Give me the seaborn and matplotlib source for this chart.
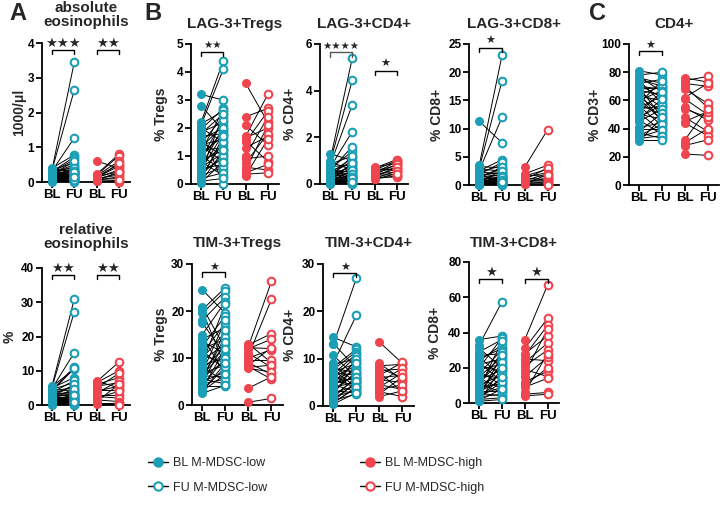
import numpy as np
import pandas as pd
import matplotlib
matplotlib.use('Agg')
import matplotlib.pyplot as plt
import seaborn as sns
from matplotlib.lines import Line2D

sns.set_theme(style='ticks')
plt.rcParams['font.family'] = ['Liberation Sans', 'DejaVu Sans']

TEAL = '#1a9fb6'
RED = '#f0454e'

# ---------------- data ----------------
tick_labels = ['BL', 'FU', 'BL', 'FU']

eos_abs_low_bl = [0.40, 0.38, 0.36, 0.35, 0.34, 0.33, 0.32, 0.30, 0.30, 0.28, 0.27, 0.26, 0.25, 0.24, 0.23, 0.22, 0.21, 0.20, 0.20, 0.19, 0.18, 0.17, 0.16, 0.15, 0.15, 0.14, 0.13, 0.12, 0.11, 0.10, 0.10, 0.09, 0.08, 0.07, 0.06, 0.05, 0.04, 0.03, 0.02, 0.01]
eos_abs_low_fu = [0.78, 0.30, 3.45, 0.55, 2.65, 0.40, 1.27, 0.72, 0.35, 0.65, 0.25, 0.50, 0.30, 0.45, 0.20, 0.60, 0.28, 0.18, 0.35, 0.22, 0.40, 0.15, 0.30, 0.12, 0.25, 0.20, 0.10, 0.33, 0.18, 0.08, 0.15, 0.05, 0.22, 0.12, 0.02, 0.10, 0.28, 0.00, 0.06, 0.15]
eos_abs_high_bl = [0.60, 0.22, 0.20, 0.18, 0.16, 0.15, 0.14, 0.12, 0.10, 0.09, 0.08, 0.07, 0.05, 0.04, 0.03, 0.02]
eos_abs_high_fu = [0.40, 0.80, 0.75, 0.60, 0.50, 0.30, 0.45, 0.35, 0.20, 0.55, 0.25, 0.10, 0.15, 0.00, 0.30, 0.05]

eos_rel_low_bl = [5.6, 5.4, 5.2, 5.0, 4.8, 4.6, 4.4, 4.2, 4.0, 3.8, 3.6, 3.4, 3.2, 3.0, 2.8, 2.6, 2.5, 2.4, 2.2, 2.0, 1.9, 1.8, 1.6, 1.5, 1.4, 1.3, 1.2, 1.1, 1.0, 0.9, 0.8, 0.7, 0.6, 0.5, 0.5, 0.4, 0.3, 0.3, 0.2, 0.1]
eos_rel_low_fu = [31.0, 10.5, 27.2, 8.0, 15.3, 6.5, 11.0, 5.0, 10.7, 4.5, 7.2, 3.5, 5.5, 2.8, 4.0, 3.0, 6.0, 2.0, 3.5, 2.5, 1.5, 4.8, 2.2, 1.8, 3.0, 1.0, 2.5, 1.5, 0.8, 2.0, 1.2, 0.5, 1.8, 0.9, 0.0, 1.4, 0.6, 2.8, 0.3, 1.0]
eos_rel_high_bl = [7.0, 6.8, 6.5, 6.0, 5.5, 5.0, 4.5, 4.0, 3.5, 3.0, 2.5, 2.0, 1.5, 1.0, 0.5, 0.2]
eos_rel_high_fu = [5.0, 12.5, 10.0, 8.0, 6.5, 9.2, 4.5, 5.5, 7.0, 3.0, 2.0, 4.0, 1.0, 6.0, 0.5, 0.0]

lag_treg_low_bl = [3.2, 2.8, 2.2, 2.15, 2.1, 2.0, 1.95, 1.9, 1.85, 1.8, 1.7, 1.6, 1.5, 1.45, 1.4, 1.35, 1.3, 1.2, 1.15, 1.1, 1.0, 0.95, 0.9, 0.85, 0.8, 0.7, 0.65, 0.6, 0.55, 0.5, 0.45, 0.4, 0.35, 0.3, 0.25, 0.2, 0.15, 0.1, 0.07, 0.05]
lag_treg_low_fu = [3.0, 1.9, 4.4, 2.6, 4.1, 1.5, 2.7, 0.0, 2.2, 2.5, 1.8, 2.0, 1.0, 2.4, 1.6, 0.8, 2.1, 1.3, 2.65, 1.7, 0.5, 1.9, 2.3, 1.2, 0.3, 1.4, 2.0, 1.1, 0.7, 1.8, 0.9, 2.5, 1.0, 0.6, 1.5, 0.4, 1.7, 0.2, 1.2, 0.8]
lag_treg_high_bl = [3.6, 2.4, 2.1, 1.7, 1.65, 1.55, 1.5, 1.3, 1.0, 0.9, 0.75, 0.6, 0.5, 0.4, 0.35, 0.3]
lag_treg_high_fu = [2.2, 2.7, 1.4, 3.2, 2.0, 0.8, 2.6, 1.7, 2.4, 1.0, 1.8, 0.5, 2.1, 0.7, 0.4, 1.6]

lag_cd4_low_bl = [1.3, 1.0, 0.95, 0.9, 0.85, 0.8, 0.75, 0.7, 0.65, 0.6, 0.58, 0.55, 0.5, 0.48, 0.45, 0.42, 0.4, 0.38, 0.35, 0.33, 0.3, 0.28, 0.25, 0.23, 0.2, 0.18, 0.16, 0.15, 0.13, 0.12, 0.1, 0.09, 0.08, 0.07, 0.06, 0.05, 0.04, 0.03, 0.02, 0.01]
lag_cd4_low_fu = [1.0, 5.4, 0.6, 4.45, 1.2, 3.4, 0.8, 2.25, 1.4, 0.5, 1.6, 0.9, 0.4, 1.1, 0.7, 0.3, 1.0, 0.6, 0.2, 0.8, 0.5, 1.2, 0.3, 0.7, 0.15, 0.4, 0.9, 0.25, 0.55, 0.1, 0.35, 0.6, 0.2, 0.45, 0.05, 0.3, 0.15, 0.0, 0.25, 0.1]
lag_cd4_high_bl = [0.72, 0.68, 0.65, 0.6, 0.55, 0.5, 0.48, 0.45, 0.4, 0.38, 0.35, 0.3, 0.28, 0.25, 0.22, 0.2]
lag_cd4_high_fu = [0.9, 1.05, 0.6, 1.0, 0.8, 0.7, 0.95, 0.5, 0.85, 0.4, 0.65, 0.75, 0.3, 0.55, 0.35, 0.45]

lag_cd8_low_bl = [11.3, 3.5, 3.3, 3.0, 2.8, 2.6, 2.5, 2.3, 2.2, 2.0, 1.9, 1.8, 1.6, 1.5, 1.4, 1.3, 1.2, 1.1, 1.0, 0.9, 0.85, 0.8, 0.7, 0.65, 0.6, 0.55, 0.5, 0.45, 0.4, 0.35, 0.3, 0.28, 0.25, 0.2, 0.18, 0.15, 0.12, 0.1, 0.08, 0.05]
lag_cd8_low_fu = [7.5, 23.0, 3.0, 18.5, 2.5, 12.0, 4.5, 2.0, 3.5, 1.5, 4.0, 2.2, 1.0, 2.8, 1.8, 0.8, 3.2, 1.2, 0.5, 2.0, 1.5, 0.3, 1.0, 2.5, 0.6, 1.3, 0.2, 0.9, 1.6, 0.4, 0.0, 1.1, 0.7, 0.3, 1.4, 0.5, 0.1, 0.8, 0.2, 0.6]
lag_cd8_high_bl = [3.2, 2.0, 1.8, 1.6, 1.4, 1.2, 1.0, 0.9, 0.8, 0.6, 0.5, 0.4, 0.3, 0.2, 0.15, 0.1]
lag_cd8_high_fu = [9.8, 3.5, 1.5, 2.8, 2.2, 1.0, 3.0, 0.8, 2.0, 0.5, 1.2, 0.3, 1.8, 0.6, 0.2, 0.0]

cd4_low_bl = [81, 78, 77, 76, 75, 74, 72, 71, 70, 69, 68, 67, 66, 65, 64, 63, 62, 61, 60, 58, 57, 56, 55, 54, 52, 51, 50, 48, 47, 46, 45, 41, 40, 38, 37, 35, 34, 33, 32, 31]
cd4_low_fu = [78, 80, 66, 72, 70, 58, 75, 62, 68, 48, 69, 64, 55, 45, 70, 60, 52, 46, 67, 74, 50, 42, 63, 56, 66, 38, 47, 57, 61, 36, 54, 44, 40, 51, 33, 43, 39, 35, 32, 48]
cd4_high_bl = [76, 74, 72, 70, 68, 62, 61, 55, 54, 48, 45, 44, 32, 30, 28, 22]
cd4_high_fu = [73, 77, 70, 55, 58, 72, 50, 46, 48, 38, 52, 35, 54, 40, 32, 21]

tim_treg_low_bl = [24.5, 20.8, 20.3, 20.0, 19.5, 18.0, 17.5, 15.0, 14.5, 14.0, 13.5, 12.5, 12.0, 11.5, 11.0, 10.5, 10.0, 9.5, 9.0, 8.5, 8.0, 7.5, 7.0, 6.8, 6.5, 6.2, 6.0, 5.8, 5.5, 5.2, 5.0, 4.8, 4.5, 4.2, 4.0, 3.5, 3.2, 3.0, 2.8, 2.5]
tim_treg_low_fu = [19.5, 12.0, 25.0, 8.0, 24.3, 23.0, 10.5, 22.0, 6.5, 16.5, 11.0, 19.0, 14.0, 7.5, 17.5, 9.0, 15.5, 13.0, 21.5, 10.0, 5.0, 12.5, 18.0, 8.5, 11.5, 6.0, 14.5, 9.5, 4.5, 16.0, 7.0, 13.5, 5.5, 10.0, 4.0, 12.0, 8.0, 6.5, 9.0, 4.2]
tim_treg_high_bl = [13.0, 12.8, 12.5, 12.2, 12.0, 11.0, 10.5, 10.0, 9.5, 9.0, 8.5, 8.2, 8.0, 7.8, 3.6, 0.6]
tim_treg_high_fu = [9.0, 15.2, 26.3, 12.0, 14.0, 8.0, 22.5, 11.8, 9.5, 6.5, 12.2, 5.5, 8.5, 7.0, 6.0, 1.4]

tim_cd4_low_bl = [14.5, 13.2, 13.0, 10.7, 9.0, 8.8, 8.5, 8.2, 8.0, 7.7, 7.5, 7.2, 7.0, 6.8, 6.5, 6.2, 6.0, 5.8, 5.5, 5.2, 5.0, 4.8, 4.5, 4.2, 4.0, 3.8, 3.5, 3.2, 3.0, 2.8, 2.5, 2.2, 2.0, 1.8, 1.5, 1.2, 1.0, 0.8, 0.6, 0.4]
tim_cd4_low_fu = [12.5, 8.0, 27.0, 6.0, 19.2, 10.0, 5.0, 12.0, 7.0, 11.5, 4.0, 9.0, 6.5, 11.0, 3.5, 8.5, 10.5, 5.5, 7.5, 4.5, 9.5, 6.0, 3.0, 8.0, 5.0, 10.0, 6.8, 2.8, 7.2, 4.2, 9.0, 5.8, 3.2, 6.2, 4.8, 2.5, 5.2, 3.8, 4.0, 2.8]
tim_cd4_high_bl = [13.5, 9.0, 8.5, 8.0, 7.5, 7.0, 6.5, 6.0, 5.5, 5.0, 4.5, 4.0, 3.5, 3.0, 2.5, 2.0]
tim_cd4_high_fu = [9.0, 5.5, 8.8, 6.0, 7.8, 3.0, 9.2, 6.5, 5.0, 8.0, 3.5, 7.0, 4.5, 2.0, 6.2, 3.2]

tim_cd8_low_bl = [36, 33, 31, 29, 27, 26, 25, 24, 23, 22, 21, 20, 19, 18, 17, 16, 15, 14, 13, 12, 11, 10.5, 10, 9, 8.5, 8, 7, 6.5, 6, 5.5, 5, 4.5, 4, 3.5, 3, 2.5, 2, 1.5, 1.2, 1]
tim_cd8_low_fu = [38, 57.5, 20, 36, 28, 15, 31, 33, 12, 25, 18, 37, 22, 10, 30, 14, 26, 8, 19, 24, 6, 29, 16, 11, 35, 21, 7, 13, 17, 4, 23, 9, 27, 5, 12, 15, 3, 8, 20, 2]
tim_cd8_high_bl = [36, 31, 28, 27, 25, 23, 21, 19, 17, 15, 12, 10, 9, 6, 5, 4]
tim_cd8_high_fu = [67, 48, 38, 44, 24, 34, 30, 15, 42, 26, 18, 20, 14, 28, 6, 5]

# ---------------- panel layout (pixels) ----------------
W, H = 720, 509
panels = [
    dict(data=(eos_abs_low_bl, eos_abs_low_fu, eos_abs_high_bl, eos_abs_high_fu),
         box=(42, 43, 88, 182), ylim=4, yticks=[0, 1, 2, 3, 4], title='absolute\neosinophils',
         ylabel='1000/μl', ylx=26, ty=15,
         br=[(0, 0.95, 1.0, 3, 9.5), (2, 0.95, 1.0, 2, 9.5)]),
    dict(data=(eos_rel_low_bl, eos_rel_low_fu, eos_rel_high_bl, eos_rel_high_fu),
         box=(42, 268, 88, 405), ylim=40, yticks=[0, 10, 20, 30, 40], title='relative\neosinophils',
         ylabel='%', ylx=17, ty=237,
         br=[(0, 0.95, 1.0, 2, 9.5), (2, 0.95, 1.0, 2, 9.5)]),
    dict(data=(lag_treg_low_bl, lag_treg_low_fu, lag_treg_high_bl, lag_treg_high_fu),
         box=(191, 44, 88, 184), ylim=5, yticks=[0, 1, 2, 3, 4, 5], title='LAG-3+Tregs',
         ylabel='% Tregs', ylx=168, ty=24,
         br=[(0, 0.943, 0.99, 2, 7.5)]),
    dict(data=(lag_cd4_low_bl, lag_cd4_low_fu, lag_cd4_high_bl, lag_cd4_high_fu),
         box=(320, 44, 88, 184), ylim=6, yticks=[0, 2, 4, 6], title='LAG-3+CD4+',
         ylabel='% CD4+', ylx=297, ty=24,
         br=[(0, 0.94, 0.985, 4, 7.5), (2, 0.81, 0.86, 1, 8)]),
    dict(data=(lag_cd8_low_bl, lag_cd8_low_fu, lag_cd8_high_bl, lag_cd8_high_fu),
         box=(469, 44, 90, 185), ylim=25, yticks=[0, 5, 10, 15, 20, 25], title='LAG-3+CD8+',
         ylabel='% CD8+', ylx=444, ty=24,
         br=[(0, 0.97, 1.02, 1, 8)]),
    dict(data=(cd4_low_bl, cd4_low_fu, cd4_high_bl, cd4_high_fu),
         box=(629, 44, 90, 185), ylim=100, yticks=[0, 20, 40, 60, 80, 100], title='CD4+',
         ylabel='% CD3+', ylx=602, ty=24,
         br=[(0, 0.95, 0.985, 1, 8)]),
    dict(data=(tim_treg_low_bl, tim_treg_low_fu, tim_treg_high_bl, tim_treg_high_fu),
         box=(192, 264, 91, 405), ylim=30, yticks=[0, 10, 20, 30], title='TIM-3+Tregs',
         ylabel='% Tregs', ylx=168, ty=243,
         br=[(0, 0.94, 0.975, 1, 8)]),
    dict(data=(tim_cd4_low_bl, tim_cd4_low_fu, tim_cd4_high_bl, tim_cd4_high_fu),
         box=(323, 264, 91, 406), ylim=30, yticks=[0, 10, 20, 30], title='TIM-3+CD4+',
         ylabel='% CD4+', ylx=297, ty=243,
         br=[(0, 0.94, 0.97, 1, 8)]),
    dict(data=(tim_cd8_low_bl, tim_cd8_low_fu, tim_cd8_high_bl, tim_cd8_high_fu),
         box=(469, 262, 90, 403), ylim=80, yticks=[0, 20, 40, 60, 80], title='TIM-3+CD8+',
         ylabel='% CD8+', ylx=442, ty=243,
         br=[(0, 0.88, 0.925, 1, 9.5), (2, 0.88, 0.925, 1, 9.5)]),
]

XMIN, XMAX = -0.45, 3.5


def make_df(low_bl, low_fu, high_bl, high_fu):
    rows = []
    for i, (a, b) in enumerate(zip(low_bl, low_fu)):
        rows.append(dict(pid=f'L{i}', pos=0, val=a, kind='BL low'))
        rows.append(dict(pid=f'L{i}', pos=1, val=b, kind='FU low'))
    for i, (a, b) in enumerate(zip(high_bl, high_fu)):
        rows.append(dict(pid=f'H{i}', pos=2, val=a, kind='BL high'))
        rows.append(dict(pid=f'H{i}', pos=3, val=b, kind='FU high'))
    return pd.DataFrame(rows)


styles = {
    'BL low': dict(color=TEAL, edgecolor=TEAL, linewidth=1.0),
    'FU low': dict(color='white', edgecolor=TEAL, linewidth=1.5),
    'BL high': dict(color=RED, edgecolor=RED, linewidth=1.0),
    'FU high': dict(color='white', edgecolor=RED, linewidth=1.5),
}

fig = plt.figure(figsize=(W / 100, H / 100), dpi=100)

for p in panels:
    l, t, w, b = p['box']
    ax = fig.add_axes([l / W, 1 - b / H, w / W, (b - t) / H])
    df = make_df(*p['data'])
    sns.lineplot(data=df, x='pos', y='val', units='pid', estimator=None,
                 color='black', linewidth=0.7, ax=ax, legend=False, zorder=1)
    for kind, st in styles.items():
        sub = df[df['kind'] == kind]
        sns.scatterplot(data=sub, x='pos', y='val', ax=ax, s=30, marker='o',
                        zorder=3, clip_on=False, legend=False, **st)
    ax.set_xlim(XMIN, XMAX)
    ax.set_ylim(0, p['ylim'])
    ax.set_xticks([0, 1, 2, 3])
    ax.set_xticklabels(tick_labels, fontweight='bold', fontsize=9.5)
    ax.set_yticks(p['yticks'])
    ax.set_yticklabels([str(v) for v in p['yticks']], fontweight='bold', fontsize=8.5)
    ax.set_xlabel('')
    ax.set_ylabel(p['ylabel'], fontweight='bold', fontsize=10)
    ax.yaxis.set_label_coords((p['ylx'] - l) / w, 0.5)
    sns.despine(ax=ax)
    for s in ['left', 'bottom']:
        ax.spines[s].set_linewidth(1.3)
        ax.spines[s].set_color('black')
    ax.tick_params(axis='both', direction='out', length=4, width=1.3, colors='black', pad=1.5)
    ax.tick_params(axis='x', pad=1)
    ax.patch.set_alpha(0)
    # title
    fig.text((l + w / 2) / W, 1 - p['ty'] / H, p['title'], ha='center', va='center',
             fontsize=11, fontweight='bold', linespacing=1.05)
    # significance brackets
    ym = p['ylim']
    for x0, hb, hs, n, fs in p['br']:
        yb = hb * ym
        d = 0.03 * ym
        col = '#555555' if n == 4 else 'black'
        ax.plot([x0, x0, x0 + 1, x0 + 1], [yb - d, yb, yb, yb - d], color=col, lw=1.0,
                clip_on=False, zorder=4)
        ax.text(x0 + 0.5, hs * ym, '★' * n, ha='center', va='center', fontsize=fs,
                family=['DejaVu Sans'], clip_on=False)

# panel letters
for letter, x in [('A', 18), ('B', 153), ('C', 598)]:
    fig.text(x / W, 1 - 13 / H, letter, ha='center', va='center', fontsize=17, fontweight='bold')

# legend
def handle(face, edge):
    return Line2D([0], [0], color='black', lw=1.0, marker='o', markersize=6,
                  markerfacecolor=face, markeredgecolor=edge, markeredgewidth=1.5)

leg1 = fig.legend([handle(TEAL, TEAL), handle('white', TEAL)],
                  ['BL M-MDSC-low', 'FU M-MDSC-low'],
                  loc='center left', bbox_to_anchor=(148 / W, 1 - 475.5 / H),
                  frameon=False, fontsize=9, handlelength=1.6, handletextpad=0.4,
                  labelspacing=1.0, borderpad=0, borderaxespad=0)
leg2 = fig.legend([handle(RED, RED), handle('white', RED)],
                  ['BL M-MDSC-high', 'FU M-MDSC-high'],
                  loc='center left', bbox_to_anchor=(360 / W, 1 - 475.5 / H),
                  frameon=False, fontsize=9, handlelength=1.6, handletextpad=0.4,
                  labelspacing=1.0, borderpad=0, borderaxespad=0)

fig.savefig('out.png', dpi=100)
